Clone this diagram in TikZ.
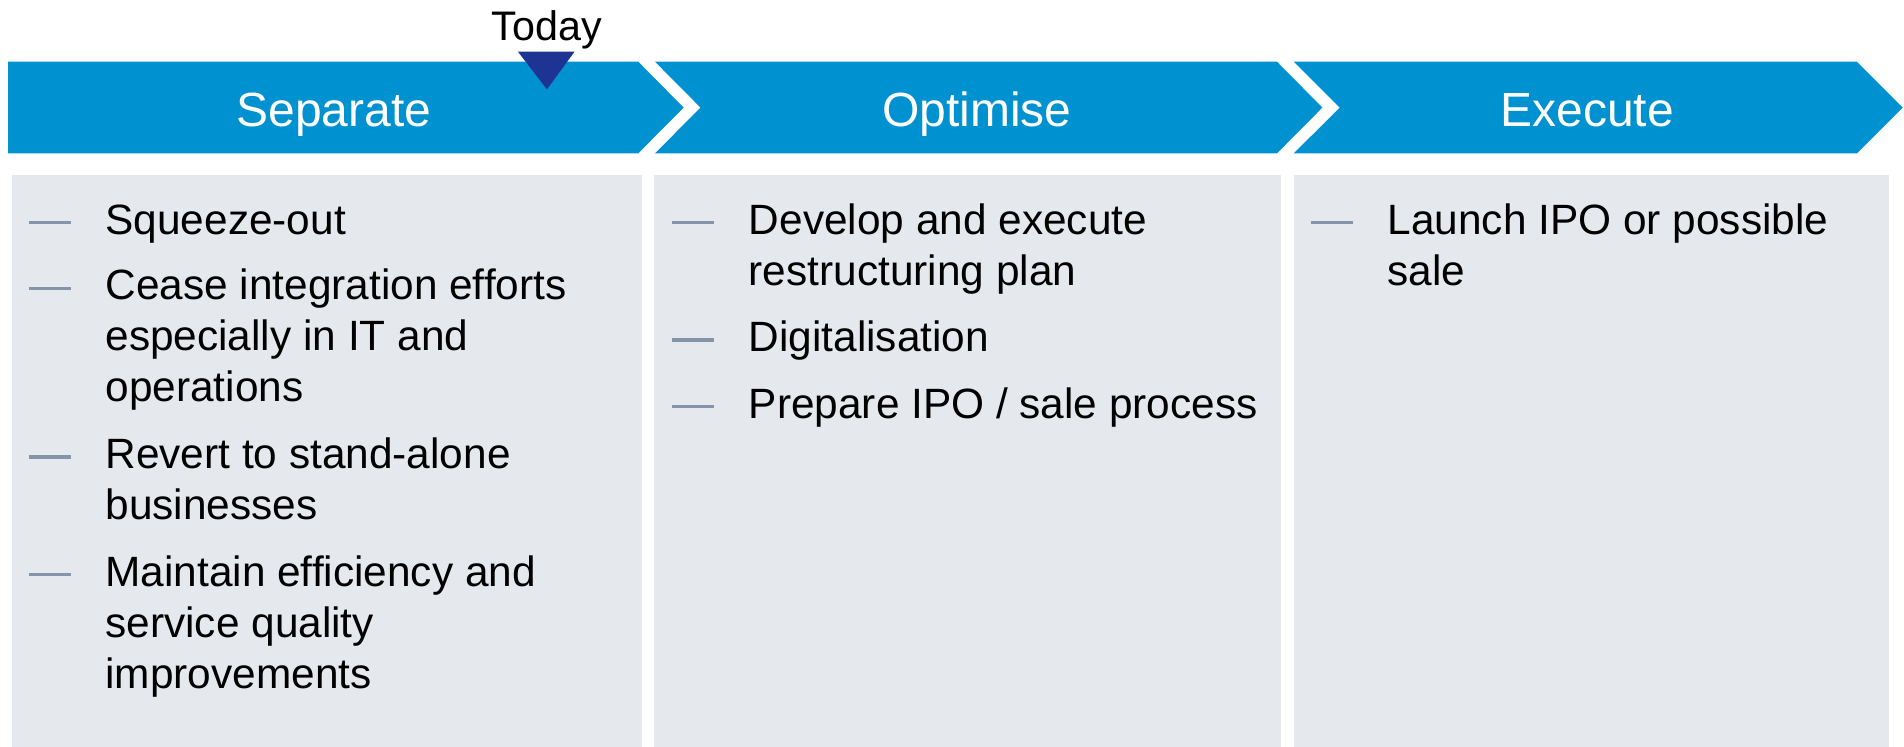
\documentclass[tikz,border=0pt]{standalone}
\usepackage{fontspec}
\setmainfont{Liberation Sans}
\usetikzlibrary{positioning,calc}
\definecolor{phaseblue}{HTML}{0092D0}
\definecolor{todayblue}{HTML}{1D3494}
\definecolor{boxgrey}{HTML}{E5E8ED}
\definecolor{dashgrey}{HTML}{8495AA}

\begin{document}
\begin{tikzpicture}[x=1pt, y=-1pt,
    phase/.style={fill=phaseblue},
    phasetext/.style={anchor=base, inner sep=0pt, text=white, font=\fontsize{39.5}{47}\selectfont},
    column/.style={fill=boxgrey},
    item/.style={anchor=base west, inner sep=0pt, font=\fontsize{34.9}{42}\selectfont},
    dashline/.style={draw=dashgrey, line width=2.7pt}]
    \useasboundingbox (0,0) rectangle (1568,615);

    % columns
    \fill[column] (9.7,144) rectangle (528.6,615);
    \fill[column] (538.5,144) rectangle (1054.6,615);
    \fill[column] (1065.6,144) rectangle (1556,615);

    % phase chevrons
    \fill[phase] (6.6,50.8) -- (525.6,50.8) -- (563,88.6) -- (525.6,126.3) -- (6.6,126.3) -- cycle;
    \fill[phase] (539.4,50.8) -- (1051.6,50.8) -- (1089,88.6) -- (1051.6,126.3) -- (539.4,126.3) -- (576.9,88.6) -- cycle;
    \fill[phase] (1065.5,50.8) -- (1529.2,50.8) -- (1567,88.6) -- (1529.2,126.3) -- (1065.5,126.3) -- (1103.3,88.6) -- cycle;
    \node[phasetext] (sep) at (275,104.3) {Separate};
    \node[phasetext] (opt) at (804.5,104.3) {Optimise};
    \node[phasetext] (exe) at (1307,104.3) {Execute};

    % today marker
    \node[anchor=base, inner sep=0pt, font=\fontsize{34}{40}\selectfont] (today) at (450.5,33.5) {Today};
    \fill[todayblue] (426.5,42.5) -- (473.2,42.5) -- (450.4,73.6) -- cycle;

    % separate
    \node[item] (s1) at (86.7,193) {\parbox[t]{430pt}{Squeeze-out}};
    \node[item] (s2) at (86.7,247) {\parbox[t]{430pt}{Cease integration efforts\\especially in IT and\\operations}};
    \node[item] (s3) at (86.7,386) {\parbox[t]{430pt}{Revert to stand-alone\\businesses}};
    \node[item] (s4) at (86.7,483) {\parbox[t]{430pt}{Maintain efficiency and\\service quality\\improvements}};

    % optimise
    \node[item] (o1) at (616.5,193) {\parbox[t]{430pt}{Develop and execute\\restructuring plan}};
    \node[item] (o2) at (616.5,289.6) {\parbox[t]{430pt}{Digitalisation}};
    \node[item] (o3) at (616.5,344.5) {\parbox[t]{430pt}{Prepare IPO / sale process}};

    % execute
    \node[item] (e1) at (1142.6,193) {\parbox[t]{400pt}{Launch IPO or possible\\sale}};

    \foreach \n in {s1,s2,s3,s4,o1,o2,o3,e1}
        \draw[dashline] ([shift={(-63.2,-9.7)}]\n.base west) -- ++(34.7,0);
\end{tikzpicture}
\end{document}
